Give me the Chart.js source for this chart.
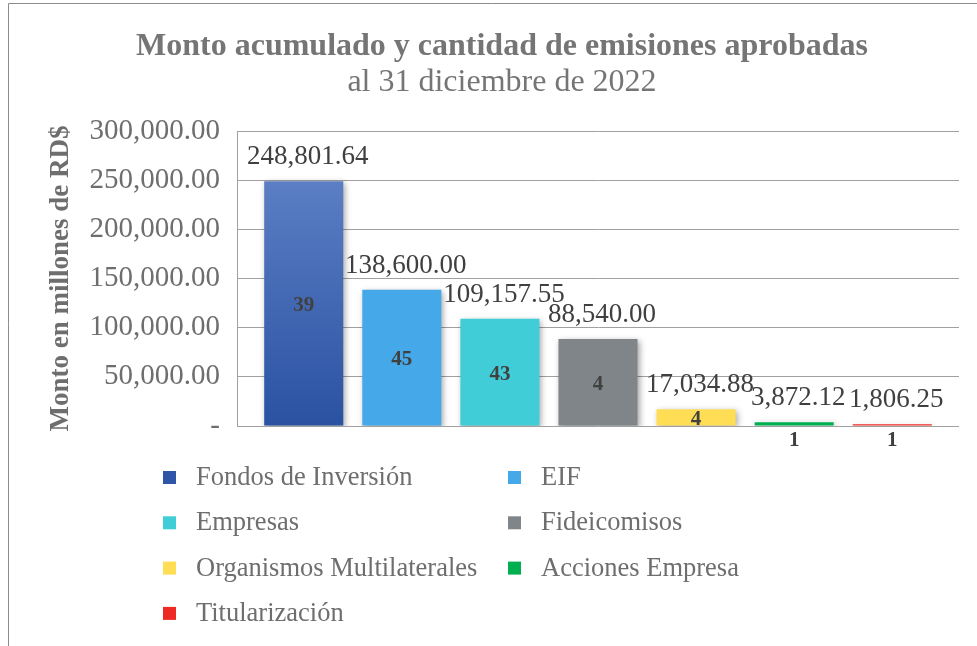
<!DOCTYPE html>
<html>
<head>
<meta charset="utf-8">
<script src="https://cdn.jsdelivr.net/npm/chart.js@4"></script>
<style>
html, body { margin: 0; padding: 0; background: #fff; }
</style>
</head>
<body>
<canvas id="grafico" width="977" height="646"></canvas>
<script>
// Datos
const categorias = ['Fondos de Inversión', 'EIF', 'Empresas', 'Fideicomisos',
                    'Organismos Multilaterales', 'Acciones Empresa', 'Titularización'];
const montos = [248801.64, 138600.00, 109157.55, 88540.00, 17034.88, 3872.12, 1806.25];
const cantidades = [39, 45, 43, 4, 4, 1, 1];
const colores = ['#2f56a6', '#45a8e8', '#40cdd8', '#7f8588', '#ffdd55', '#00b050', '#ee2a24'];
const ejeYMax = 300000;
const ejeYPaso = 50000;

const fuente = '"Liberation Serif", "Times New Roman", serif';
const gris = '#6e6e6e';

function formato(v) {
    if (v === 0) return '-';
    return v.toLocaleString('en-US', { minimumFractionDigits: 2, maximumFractionDigits: 2 });
}

// degradado de la primera barra
function colorFondos(ctx) {
    const chart = ctx.chart;
    const area = chart.chartArea;
    if (!area) return colores[0];
    const y = chart.scales.y;
    const g = chart.ctx.createLinearGradient(0, y.getPixelForValue(montos[0]), 0, area.bottom);
    g.addColorStop(0, '#5b7ec4');
    g.addColorStop(1, '#2a52a2');
    return g;
}

const datasets = categorias.map((c, i) => ({
    label: c,
    data: [montos[i]],
    backgroundColor: i === 0 ? colorFondos : colores[i],
    borderWidth: 0,
    categoryPercentage: 0.951,
    barPercentage: 0.806
}));

const marco = {
    id: 'marco',
    beforeDraw(chart) {
        const ctx = chart.ctx;
        ctx.save();
        ctx.strokeStyle = '#8c8c8c';
        ctx.lineWidth = 1;
        ctx.beginPath();
        ctx.moveTo(8.5, 646);
        ctx.lineTo(8.5, 3.5);
        ctx.lineTo(977, 3.5);
        ctx.stroke();
        ctx.restore();
    }
};

const sombra = {
    id: 'sombra',
    beforeDatasetsDraw(chart) {
        const ctx = chart.ctx;
        ctx.save();
        ctx.shadowColor = 'rgba(0,0,0,0.35)';
        ctx.shadowBlur = 6;
        ctx.shadowOffsetX = 2;
        ctx.shadowOffsetY = 2;
    },
    afterDatasetsDraw(chart) {
        chart.ctx.restore();
    }
};

const etiquetas = {
    id: 'etiquetas',
    afterDatasetsDraw(chart) {
        const ctx = chart.ctx;
        ctx.save();
        ctx.textAlign = 'center';
        ctx.textBaseline = 'middle';
        chart.data.datasets.forEach((ds, i) => {
            const bar = chart.getDatasetMeta(i).data[0];
            ctx.fillStyle = '#404040';
            ctx.font = '27px ' + fuente;
            ctx.fillText(formato(montos[i]), bar.x + 4, bar.y - 24);
            ctx.font = 'bold 21px ' + fuente;
            const alto = bar.base - bar.y;
            const yc = alto > 10 ? (bar.y + bar.base) / 2 + 2 : bar.base + 15;
            ctx.fillText(String(cantidades[i]), bar.x, yc);
        });
        ctx.restore();
    }
};

// leyenda en dos columnas
const leyenda = {
    id: 'leyenda',
    afterDraw(chart) {
        const ctx = chart.ctx;
        const top = chart.chartArea.bottom + 51;
        ctx.save();
        ctx.font = '26.5px ' + fuente;
        ctx.textBaseline = 'middle';
        ctx.textAlign = 'left';
        categorias.forEach((c, i) => {
            const col = i % 2, fila = Math.floor(i / 2);
            const x = col === 0 ? 163 : 508;
            const y = top + fila * 45.3;
            ctx.fillStyle = colores[i];
            ctx.fillRect(x, y - 6, 13, 13);
            ctx.fillStyle = gris;
            ctx.fillText(c, x + 33, y + 1);
        });
        ctx.restore();
    }
};

new Chart(document.getElementById('grafico'), {
    type: 'bar',
    data: { labels: [''], datasets: datasets },
    options: {
        responsive: false,
        animation: false,
        devicePixelRatio: 1,
        layout: { padding: { left: 45, right: 18, top: 0, bottom: 220 } },
        plugins: {
            legend: { display: false },
            tooltip: { enabled: false },
            title: {
                display: true,
                text: 'Monto acumulado y cantidad de emisiones aprobadas',
                color: '#757575',
                font: { family: fuente, size: 32, weight: 'bold', lineHeight: 1 },
                padding: { top: 31, bottom: 0 }
            },
            subtitle: {
                display: true,
                text: 'al 31 diciembre de 2022',
                color: '#757575',
                font: { family: fuente, size: 32, lineHeight: 1 },
                padding: { top: 4, bottom: 32 }
            }
        },
        scales: {
            x: { display: false },
            y: {
                min: 0,
                max: ejeYMax,
                afterFit(scale) { scale.width = 192; },
                ticks: {
                    stepSize: ejeYPaso,
                    color: gris,
                    padding: 17,
                    font: { family: fuente, size: 29 },
                    callback: (v) => formato(v)
                },
                grid: { color: '#a0a0a0', drawTicks: false },
                border: { display: true, color: '#a0a0a0' },
                title: {
                    display: true,
                    text: 'Monto en millones de RD$',
                    color: gris,
                    font: { family: fuente, size: 27, weight: 'bold' },
                    padding: 0
                }
            }
        }
    },
    plugins: [marco, sombra, etiquetas, leyenda]
});
</script>
</body>
</html>
